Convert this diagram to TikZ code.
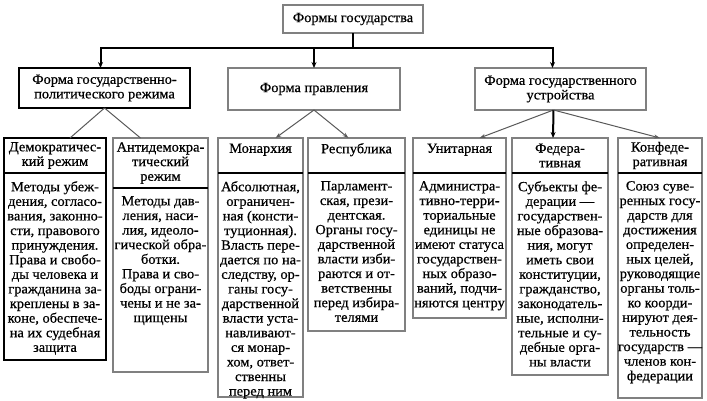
\documentclass[tikz,border=0pt]{standalone}
\usepackage{fontspec}
\setmainfont[FakeStretch=1.03, FakeBold=0.6]{Liberation Serif}
\usetikzlibrary{arrows.meta}
\definecolor{grigio}{gray}{0.5}

\begin{document}
\begin{tikzpicture}[x=1pt, y=-1pt,
    font=\fontsize{14}{14.6}\selectfont,
    scatola/.style={draw=grigio, line width=1.6pt, fill=white, align=center, inner xsep=0pt, inner ysep=2pt, outer sep=0pt},
    nera/.style={draw=black},
    cornice/.style={draw=grigio, line width=1.6pt, outer sep=0pt},
    testo/.style={align=center, inner xsep=0pt, inner ysep=8pt},
    divisorio/.style={line width=1.6pt},
    freccia/.style={line width=2pt, -{Stealth[length=6pt,width=5pt]}},
    ramo/.style={draw=grigio!70!black, line width=1pt},
    punta/.style={-{Stealth[length=6pt,width=4pt]}}]
    \useasboundingbox (0,0) rectangle (707,400);
    % --- macro riutilizzabili -----------------------------------------
    % nome, angolo in alto a sinistra, larghezza, altezza testata,
    % altezza corpo, stile, testata, corpo
    \def\riquadro#1#2#3#4#5#6#7#8{%
        \node[scatola, #6, anchor=north west, minimum width=#3, minimum height=#4] (#1) at (#2) {#7};
        \node[cornice, #6, anchor=north, minimum width=#3, minimum height=#5] (#1c) at (#1.south) {};
        \node[testo, anchor=north] (#1t) at (#1c.north) {#8};
        \draw[divisorio] (#1.south west) -- (#1.south east);
    }
    % --- primo e secondo livello --------------------------------------
    \node[scatola, anchor=north west, minimum width=140pt, minimum height=28pt] (forme) at (283,5) {Формы государства};
    \node[scatola, nera, line width=2pt, anchor=north west, minimum width=171pt, minimum height=40pt] (regime) at (19,68) {Форма государственно-\\политического режима};
    \node[scatola, anchor=north west, minimum width=172pt, minimum height=42pt] (governo) at (228,68) {Форма правления};
    \node[scatola, anchor=north west, minimum width=171pt, minimum height=42pt] (struttura) at (475,68) {Форма государственного\\устройства};
    % --- frecce principali --------------------------------------------
    \draw[freccia] (forme.south) -- ++(0,15) -| ([xshift=-4pt]regime.north);
    \draw[freccia] (forme.south) -- ++(0,15) -| (governo.north);
    \draw[freccia] (forme.south) -- ++(0,15) -| ([xshift=-8pt]struttura.north);
    % --- terzo livello ------------------------------------------------
    \riquadro{demo}{4,138}{102pt}{35pt}{187pt}{nera}{Демократичес-\\кий режим}
        {Методы убеж-\\дения, согласо-\\вания, законно-\\сти, правового\\принуждения.\\Права и свобо-\\ды человека и\\гражданина за-\\креплены в за-\\коне, обеспече-\\на их судебная\\защита}
    \riquadro{anti}{113,138}{95pt}{50pt}{184pt}{}{Антидемокра-\\тический\\режим}
        {Методы дав-\\ления, наси-\\лия, идеоло-\\гической обра-\\ботки.\\Права и сво-\\боды ограни-\\чены и не за-\\щищены}
    \riquadro{mon}{218,138}{85pt}{35pt}{224pt}{}{Монархия\\\mbox{}}
        {Абсолютная,\\ограничен-\\ная (консти-\\туционная).\\Власть пере-\\дается по на-\\следству, ор-\\ганы госу-\\дарственной\\власти уста-\\навливают-\\ся монар-\\хом, ответ-\\ственны\\перед ним}
    \riquadro{rep}{308,138}{97pt}{35pt}{158pt}{}{Республика\\\mbox{}}
        {Парламент-\\ская, прези-\\дентская.\\Органы госу-\\дарственной\\власти изби-\\раются и от-\\ветственны\\перед избира-\\телями}
    \riquadro{uni}{413,138}{93pt}{35pt}{145pt}{}{Унитарная\\\mbox{}}
        {Администра-\\тивно-терри-\\ториальные\\единицы не\\имеют статуса\\государствен-\\ных образо-\\ваний, подчи-\\няются центру}
    \riquadro{fed}{512,138}{96pt}{35pt}{202pt}{}{Федера-\\тивная}
        {Субъекты фе-\\дерации —\\государствен-\\ные образова-\\ния, могут\\иметь свои\\конституции,\\гражданство,\\законодатель-\\ные, исполни-\\тельные и су-\\дебные орга-\\ны власти}
    \riquadro{conf}{618,138}{84pt}{35pt}{225pt}{}{Конфеде-\\ративная}
        {Союз суве-\\ренных госу-\\дарств для\\достижения\\определен-\\ных целей,\\руководящие\\органы толь-\\ко коорди-\\нируют дея-\\тельность\\государств —\\членов кон-\\федерации}
    % --- rami ---------------------------------------------------------
    \draw[ramo] (regime.south) -- ([xshift=15pt]demo.north);
    \draw[ramo] (regime.south) -- ([xshift=-20pt]anti.north);
    \draw[ramo, punta] (governo.south) -- ([xshift=15pt]mon.north);
    \draw[ramo, punta] (governo.south) -- ([xshift=-8pt]rep.north);
    \draw[ramo, punta] ([xshift=-7pt]struttura.south) -- ([xshift=20pt]uni.north);
    \draw[freccia] ([xshift=-7pt]struttura.south) -- ([xshift=-7pt]fed.north);
    \draw[ramo, punta] ([xshift=-7pt]struttura.south) -- (conf.north);
\end{tikzpicture}
\end{document}
